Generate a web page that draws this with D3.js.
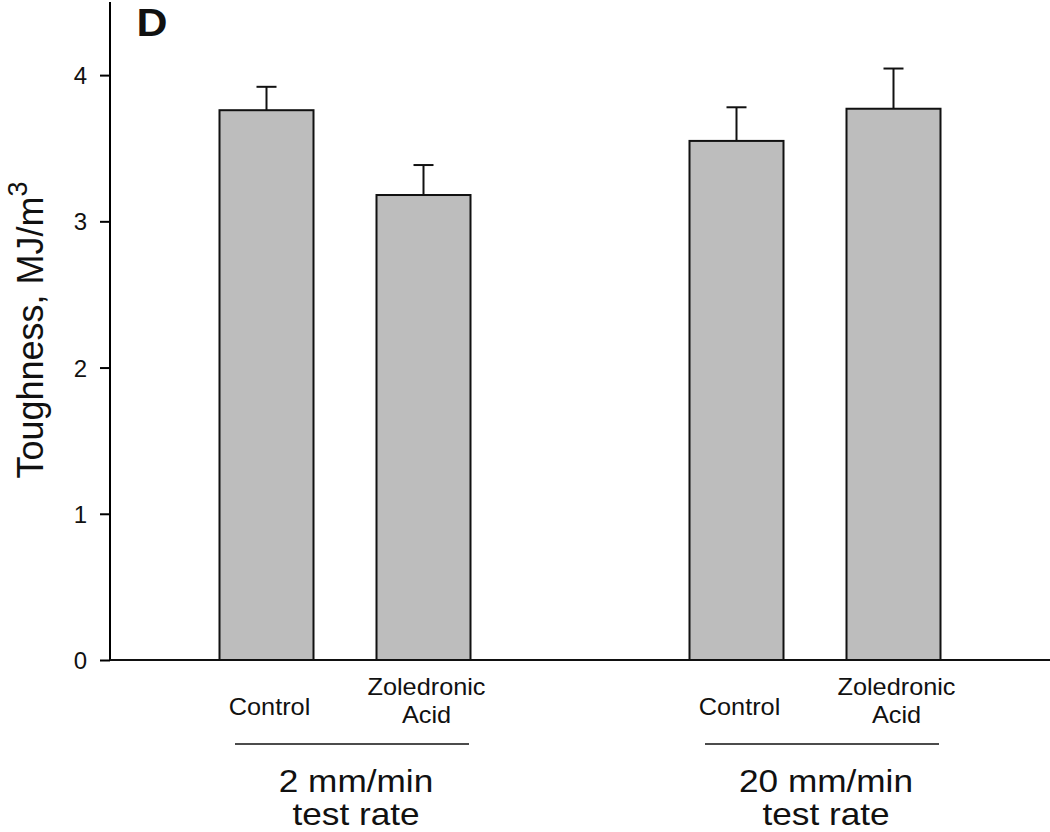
<!DOCTYPE html>
<html>
<head>
<meta charset="utf-8">
<script src="https://cdn.jsdelivr.net/npm/d3@7"></script>
<style>
  body { margin: 0; background: #fff; }
  svg { display: block; font-family: "Liberation Sans", Arial, sans-serif; }
</style>
</head>
<body>
<div id="plotPanel"></div>
<script>
// data
let groups = ["2 mm/min", "20 mm/min"];
let treatments = ["Control", "Zoledronic Acid"];
let means = [[3.76, 3.18], [3.55, 3.77]];
let errTops = [[3.92, 3.385], [3.78, 4.045]];
let yTicks = [0, 1, 2, 3, 4];

let W = 1050, H = 832;
let x0 = 110, x1 = 1050, yZero = 660, yTop = 2;

var svg = d3.select("#plotPanel").append("svg")
    .attr("width", W)
    .attr("height", H);

var yScale = d3.scaleLinear()
    .domain([0, 4.5])
    .range([yZero, yTop]);

var groupScale = d3.scalePoint()
    .domain(groups)
    .range([x0, x1])
    .padding(0.5);

var subScale = d3.scalePoint()
    .domain(treatments)
    .range([-78.5, 78.5]);

let barW = 94;
let hx = 1.1; // the reference text is a bit wide

// flatten for drawing
var dataset = [];
groups.forEach((g, gi) => treatments.forEach((t, ti) => {
    dataset.push({ g: g, t: t, v: means[gi][ti], e: errTops[gi][ti] });
}));
var cx = d => groupScale(d.g) + subScale(d.t);

// y axis
var yAxis = svg.append("g")
    .attr("transform", "translate(" + x0 + ",0)")
    .call(d3.axisLeft(yScale).tickValues(yTicks).tickSize(10).tickPadding(13).tickFormat(d3.format("d")));
yAxis.select(".domain").attr("d", "M0," + yTop + "V" + yZero).attr("stroke-width", 2);
yAxis.selectAll(".tick line").attr("stroke-width", 2);
yAxis.selectAll(".tick text")
    .attr("font-size", 24)
    .attr("fill", "#111")
    .attr("dy", "0.36em");

// error bars (drawn first so the bar outline sits on top)
var errs = svg.selectAll(".err").data(dataset).enter().append("g").attr("class", "err");
errs.append("line")
    .attr("x1", cx).attr("x2", cx)
    .attr("y1", d => yScale(d.v)).attr("y2", d => yScale(d.e))
    .attr("stroke", "#111").attr("stroke-width", 2);
errs.append("line")
    .attr("x1", d => cx(d) - 10).attr("x2", d => cx(d) + 10)
    .attr("y1", d => yScale(d.e)).attr("y2", d => yScale(d.e))
    .attr("stroke", "#111").attr("stroke-width", 2);

// bars
svg.selectAll(".bar")
    .data(dataset)
    .enter().append("rect")
    .attr("class", "bar")
    .attr("x", d => cx(d) - barW / 2)
    .attr("width", barW)
    .attr("y", d => yScale(d.v))
    .attr("height", d => yScale(0) - yScale(d.v))
    .attr("fill", "#bdbdbd")
    .attr("stroke", "#111")
    .attr("stroke-width", 2);

// x axis line
svg.append("line")
    .attr("x1", x0).attr("x2", x1)
    .attr("y1", yZero).attr("y2", yZero)
    .attr("stroke", "#111").attr("stroke-width", 2);

// category labels
function wideText(sel, x, y, txt, size, weight) {
    return sel.append("text")
        .attr("transform", "translate(" + x + "," + y + ") scale(" + hx + ",1)")
        .attr("text-anchor", "middle")
        .attr("font-size", size)
        .attr("font-weight", weight || "normal")
        .attr("fill", "#111")
        .text(txt);
}

dataset.forEach(d => {
    let words = d.t.split(" ");
    if (words.length == 1) {
        wideText(svg, cx(d) + 3, 715, d.t, 23);
    } else {
        wideText(svg, cx(d) + 3, 695, words[0], 23);
        wideText(svg, cx(d) + 3, 723, words[1], 23);
    }
});

// group underline and labels
groups.forEach(g => {
    let c = groupScale(g);
    svg.append("line")
        .attr("x1", c - 110).attr("x2", c + 124)
        .attr("y1", 744).attr("y2", 744)
        .attr("stroke", "#111").attr("stroke-width", 1.5);
    wideText(svg, c + 11, 792, g, 32);
    wideText(svg, c + 11, 825, "test rate", 32);
});

// y label
var yl = svg.append("text")
    .attr("transform", "translate(43,330) rotate(-90)")
    .attr("text-anchor", "middle")
    .attr("font-size", 36)
    .attr("fill", "#111");
yl.append("tspan").text("Toughness, MJ/m");
yl.append("tspan").attr("font-size", 27).attr("dy", -16).text("3");

// panel letter
wideText(svg, 152, 36, "D", 39, "bold");
</script>
</body>
</html>
